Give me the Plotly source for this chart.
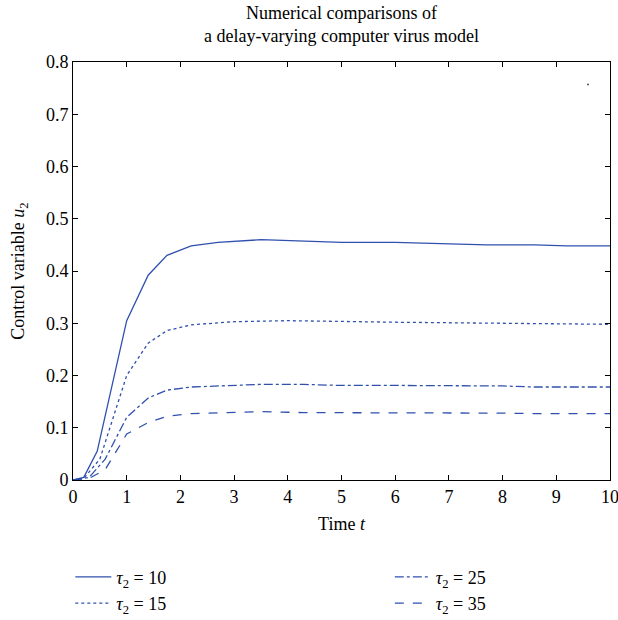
import plotly.graph_objects as go

# Time samples and control variable u2 for each delay value tau2
t_10 = [0, 0.2, 0.45, 1.0, 1.4, 1.75, 2.2, 2.7, 3.5, 4.5, 5.0, 6.0, 7.0, 7.7, 8.6, 9.2, 10]
u_10 = [0, 0.005, 0.055, 0.305, 0.392, 0.430, 0.448, 0.455, 0.460, 0.457, 0.455, 0.455, 0.452, 0.450, 0.450, 0.448, 0.448]

t_15 = [0, 0.2, 0.5, 1.0, 1.4, 1.75, 2.2, 3.0, 4.0, 5.0, 6.0, 7.0, 8.0, 9.0, 10]
u_15 = [0, 0.003, 0.040, 0.200, 0.262, 0.286, 0.297, 0.303, 0.305, 0.303, 0.302, 0.301, 0.300, 0.300, 0.298]

t_25 = [0, 0.3, 0.6, 1.0, 1.4, 1.75, 2.2, 3.0, 3.5, 4.3, 5.0, 6.0, 7.0, 8.0, 8.6, 10]
u_25 = [0, 0.005, 0.040, 0.120, 0.157, 0.172, 0.178, 0.181, 0.183, 0.183, 0.181, 0.181, 0.181, 0.180, 0.178, 0.178]

t_35 = [0, 0.3, 0.6, 1.0, 1.4, 1.75, 2.2, 3.0, 3.5, 4.3, 5.0, 6.0, 7.0, 8.0, 8.6, 10]
u_35 = [0, 0.003, 0.020, 0.088, 0.110, 0.122, 0.127, 0.130, 0.131, 0.129, 0.129, 0.129, 0.129, 0.128, 0.127, 0.127]

# stray point in the upper right of the axes
stray_t = [9.59]
stray_u = [0.757]

labels = ["10", "15", "25", "35"]
dashes = ["solid", "dot", "dashdot", "dash"]
legend_ids = ["legend", "legend", "legend2", "legend2"]

BLUE = "#3050ae"
FONT = "Liberation Serif"
FS = 18

fig = go.Figure()
for tt, uu, lab, dsh, lg in zip([t_10, t_15, t_25, t_35], [u_10, u_15, u_25, u_35], labels, dashes, legend_ids):
    fig.add_trace(go.Scatter(
        x=tt, y=uu, mode="lines",
        line=dict(color=BLUE, width=1.3, dash=dsh),
        name=f"<i>τ</i><sub>2</sub> = {lab}",
        legend=lg,
    ))

fig.add_trace(go.Scatter(
    x=stray_t, y=stray_u, mode="markers",
    marker=dict(color="#555555", size=2),
    showlegend=False, hoverinfo="skip",
))

axis_common = dict(
    showline=True, linecolor="black", linewidth=1, mirror="ticks",
    ticks="inside", ticklen=5, tickcolor="black", tickwidth=1,
    showgrid=False, zeroline=False, ticklabeloverflow="allow",
    tickfont=dict(family=FONT, size=FS, color="black"),
)

legend_common = dict(
    orientation="v",
    yanchor="top", y=-0.188,
    itemwidth=36,
    font=dict(family=FONT, size=FS, color="black"),
    bgcolor="rgba(0,0,0,0)",
    tracegroupgap=0,
)

fig.update_layout(
    width=618, height=620,
    margin=dict(l=73, r=8, t=62, b=140, autoexpand=False),
    paper_bgcolor="white", plot_bgcolor="white",
    font=dict(family=FONT, size=FS, color="black"),
    annotations=[dict(
        text="Numerical comparisons of<br>a delay-varying computer virus model",
        x=0.5, xref="paper", xanchor="center",
        y=1.0909, yref="paper", yanchor="middle",
        showarrow=False,
        font=dict(family=FONT, size=FS, color="black"),
    )],
    xaxis=dict(
        range=[-0.0001, 10.0001], tickvals=list(range(11)),
        title=dict(text="Time <i>t</i>", font=dict(family=FONT, size=FS), standoff=11),
        **axis_common,
    ),
    yaxis=dict(
        range=[0, 0.8001], dtick=0.1, tick0=0,
        title=dict(text="Control variable <i>u</i><sub>2</sub>", font=dict(family=FONT, size=FS), standoff=16),
        **axis_common,
    ),
    legend=dict(x=-0.005, xanchor="left", **legend_common),
    legend2=dict(x=0.59, xanchor="left", **legend_common),
)

fig.write_html("out.html")
